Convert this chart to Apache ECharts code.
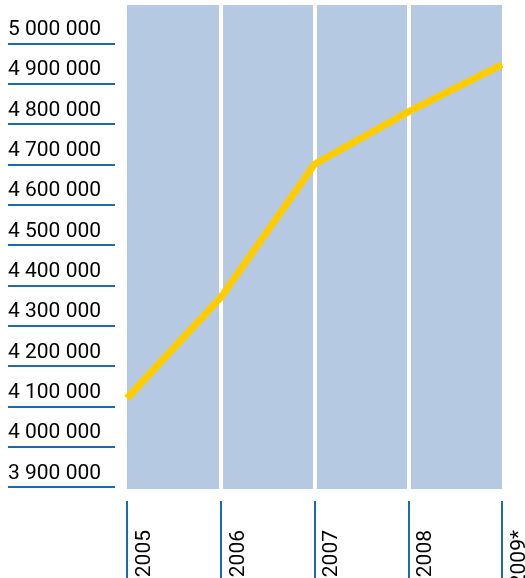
<!DOCTYPE html>
<html>
<head>
<meta charset="utf-8">
<script src="https://cdn.jsdelivr.net/npm/echarts@6/dist/echarts.min.js"></script>
<style>
html,body{margin:0;padding:0;background:#fff;}
#chart{width:525px;height:578px;}
</style>
</head>
<body>
<div id="chart"></div>
<script>
const years = ['2005', '2006', '2007', '2008', '2009*'];
const population = [4120000, 4370000, 4700000, 4830000, 4947000];
const yTicks = [3900000, 4000000, 4100000, 4200000, 4300000, 4400000, 4500000, 4600000, 4700000, 4800000, 4900000, 5000000];

const BLUE = '#1a6cab';
const FONT = 'Roboto';

function fmt(v) {
  return String(Math.round(v)).replace(/\B(?=(\d{3})+(?!\d))/g, ' ');
}

const chart = echarts.init(document.getElementById('chart'), null, {renderer: 'canvas'});
chart.setOption({
  animation: false,
  backgroundColor: '#ffffff',
  grid: {
    left: 127, right: 23, top: 5, bottom: 89,
    outerBoundsMode: 'none', containLabel: false,
    show: true, backgroundColor: '#b6c9e3', borderWidth: 0
  },
  xAxis: {
    type: 'category',
    data: years,
    boundaryGap: false,
    offset: 12,
    axisLine: {show: false},
    axisTick: {show: true, interval: 0, length: 78, lineStyle: {color: BLUE, width: 2}},
    axisLabel: {
      interval: 0, rotate: 90, margin: 29,
      fontFamily: FONT, fontSize: 21, color: '#000000',
      verticalAlign: 'top', padding: [7, 0, 0, 0]
    },
    splitLine: {
      show: true,
      interval: function (i) { return i > 0 && i < years.length - 1; },
      lineStyle: {color: '#ffffff', width: 4}
    }
  },
  yAxis: {
    type: 'value',
    min: 3895000, max: 5095000,
    offset: 12,
    axisLine: {show: false},
    splitLine: {show: false},
    axisTick: {show: true, length: 107, customValues: yTicks, lineStyle: {color: BLUE, width: 2}},
    axisLabel: {
      customValues: yTicks,
      margin: 107, align: 'left', verticalAlign: 'bottom', padding: [0, 0, 3, 0],
      fontFamily: FONT, fontSize: 21, color: '#000000',
      formatter: fmt
    }
  },
  series: [{
    type: 'line',
    data: population,
    symbol: 'none',
    z: 5,
    lineStyle: {color: '#ffcc00', width: 7}
  }]
});
</script>
</body>
</html>
